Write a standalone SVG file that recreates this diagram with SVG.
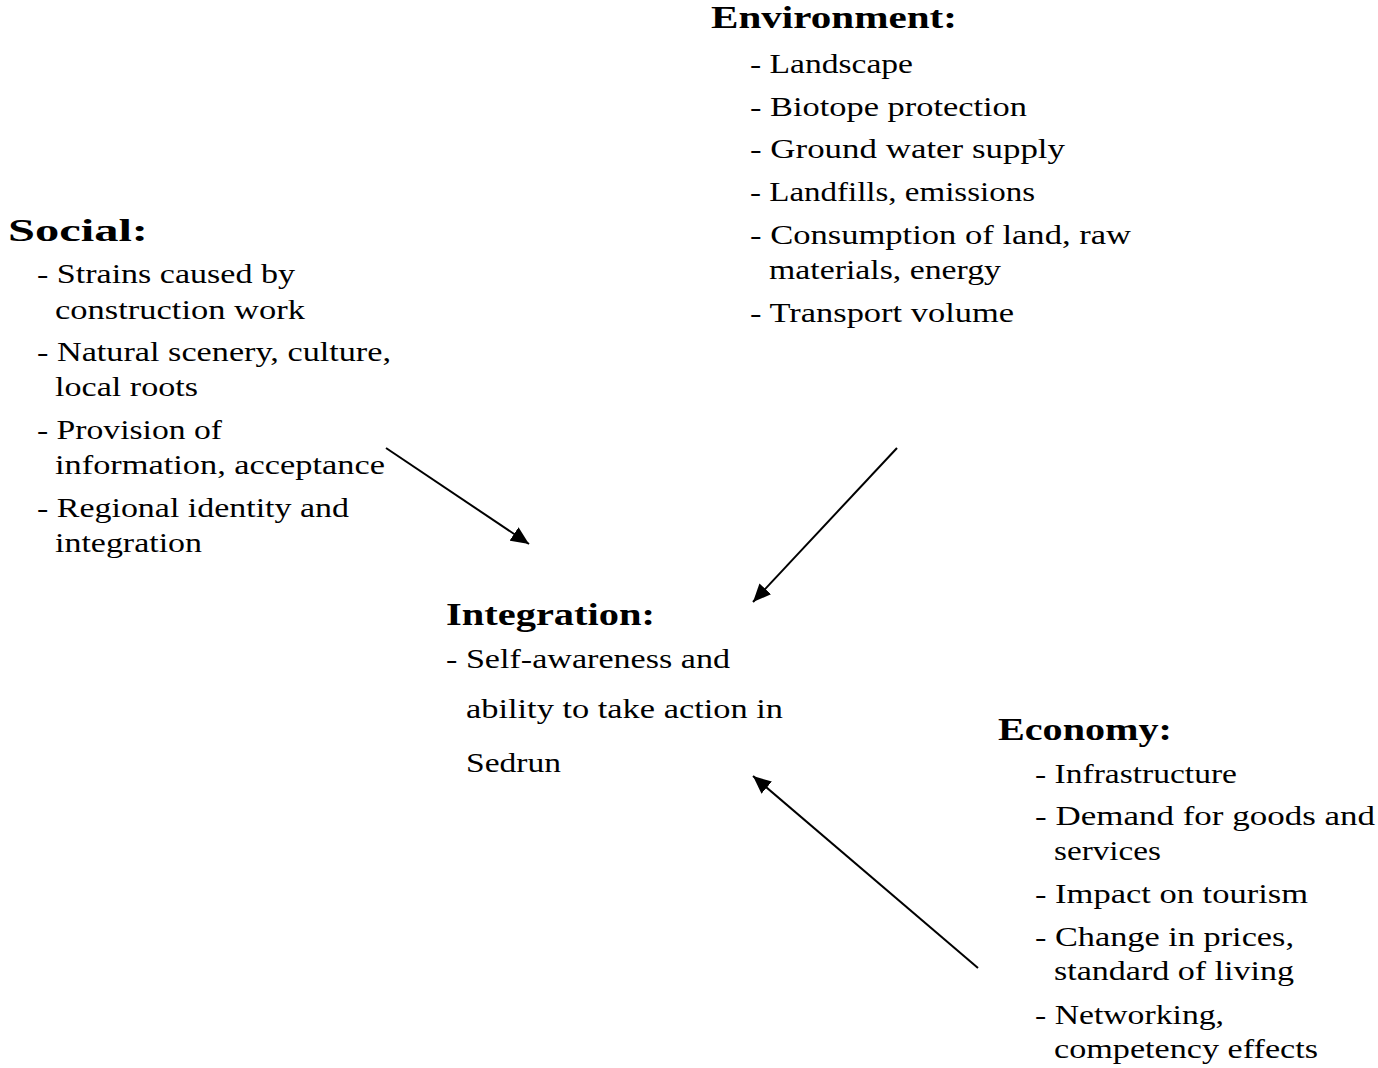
<svg xmlns="http://www.w3.org/2000/svg" width="1378" height="1068" viewBox="0 0 1378 1068">
<style>
.h{font-family:"Liberation Serif",serif;font-weight:bold;font-size:31px;fill:#000}
.t{font-family:"Liberation Serif",serif;font-size:28px;fill:#000}
.c{stroke:#000;stroke-width:2;fill:none}
</style>
<defs>
<marker id="ah" markerUnits="userSpaceOnUse" markerWidth="20" markerHeight="16" refX="18" refY="8" orient="auto">
<path d="M0,0 L18,8 L0,16 Z" fill="#000"/>
</marker>
</defs>
<rect width="1378" height="1068" fill="#fff"/>
<g id="social">
<text class="h" x="8" y="241" textLength="140" lengthAdjust="spacingAndGlyphs">Social:</text>
<text class="t" x="37" y="283" textLength="258" lengthAdjust="spacingAndGlyphs">- Strains caused by</text>
<text class="t" x="55" y="319" textLength="250" lengthAdjust="spacingAndGlyphs">construction work</text>
<text class="t" x="37" y="361" textLength="354" lengthAdjust="spacingAndGlyphs">- Natural scenery, culture,</text>
<text class="t" x="55" y="396" textLength="143" lengthAdjust="spacingAndGlyphs">local roots</text>
<text class="t" x="37" y="439" textLength="185" lengthAdjust="spacingAndGlyphs">- Provision of</text>
<text class="t" x="55" y="474" textLength="330" lengthAdjust="spacingAndGlyphs">information, acceptance</text>
<text class="t" x="37" y="517" textLength="312" lengthAdjust="spacingAndGlyphs">- Regional identity and</text>
<text class="t" x="55" y="552" textLength="147" lengthAdjust="spacingAndGlyphs">integration</text>
</g>
<g id="environment">
<text class="h" x="711" y="28" textLength="246" lengthAdjust="spacingAndGlyphs">Environment:</text>
<text class="t" x="750" y="73" textLength="163" lengthAdjust="spacingAndGlyphs">- Landscape</text>
<text class="t" x="750" y="116" textLength="277" lengthAdjust="spacingAndGlyphs">- Biotope protection</text>
<text class="t" x="750" y="158" textLength="315" lengthAdjust="spacingAndGlyphs">- Ground water supply</text>
<text class="t" x="750" y="201" textLength="285" lengthAdjust="spacingAndGlyphs">- Landfills, emissions</text>
<text class="t" x="750" y="244" textLength="381" lengthAdjust="spacingAndGlyphs">- Consumption of land, raw</text>
<text class="t" x="769" y="279" textLength="232" lengthAdjust="spacingAndGlyphs">materials, energy</text>
<text class="t" x="750" y="322" textLength="264" lengthAdjust="spacingAndGlyphs">- Transport volume</text>
</g>
<g id="integration">
<text class="h" x="446" y="625" textLength="209" lengthAdjust="spacingAndGlyphs">Integration:</text>
<text class="t" x="446" y="668" textLength="284" lengthAdjust="spacingAndGlyphs">- Self-awareness and</text>
<text class="t" x="466" y="718" textLength="317" lengthAdjust="spacingAndGlyphs">ability to take action in</text>
<text class="t" x="466" y="772" textLength="95" lengthAdjust="spacingAndGlyphs">Sedrun</text>
</g>
<g id="economy">
<text class="h" x="998" y="740" textLength="174" lengthAdjust="spacingAndGlyphs">Economy:</text>
<text class="t" x="1035" y="783" textLength="202" lengthAdjust="spacingAndGlyphs">- Infrastructure</text>
<text class="t" x="1035" y="825" textLength="340" lengthAdjust="spacingAndGlyphs">- Demand for goods and</text>
<text class="t" x="1054" y="860" textLength="107" lengthAdjust="spacingAndGlyphs">services</text>
<text class="t" x="1035" y="903" textLength="273" lengthAdjust="spacingAndGlyphs">- Impact on tourism</text>
<text class="t" x="1035" y="946" textLength="259" lengthAdjust="spacingAndGlyphs">- Change in prices,</text>
<text class="t" x="1054" y="980" textLength="240" lengthAdjust="spacingAndGlyphs">standard of living</text>
<text class="t" x="1035" y="1024" textLength="189" lengthAdjust="spacingAndGlyphs">- Networking,</text>
<text class="t" x="1054" y="1058" textLength="264" lengthAdjust="spacingAndGlyphs">competency effects</text>
</g>
<g id="connectors">
<line class="c" x1="386" y1="448" x2="529" y2="544" marker-end="url(#ah)"/>
<line class="c" x1="897" y1="448" x2="753" y2="602" marker-end="url(#ah)"/>
<line class="c" x1="978" y1="968" x2="753" y2="776" marker-end="url(#ah)"/>
</g>
</svg>
